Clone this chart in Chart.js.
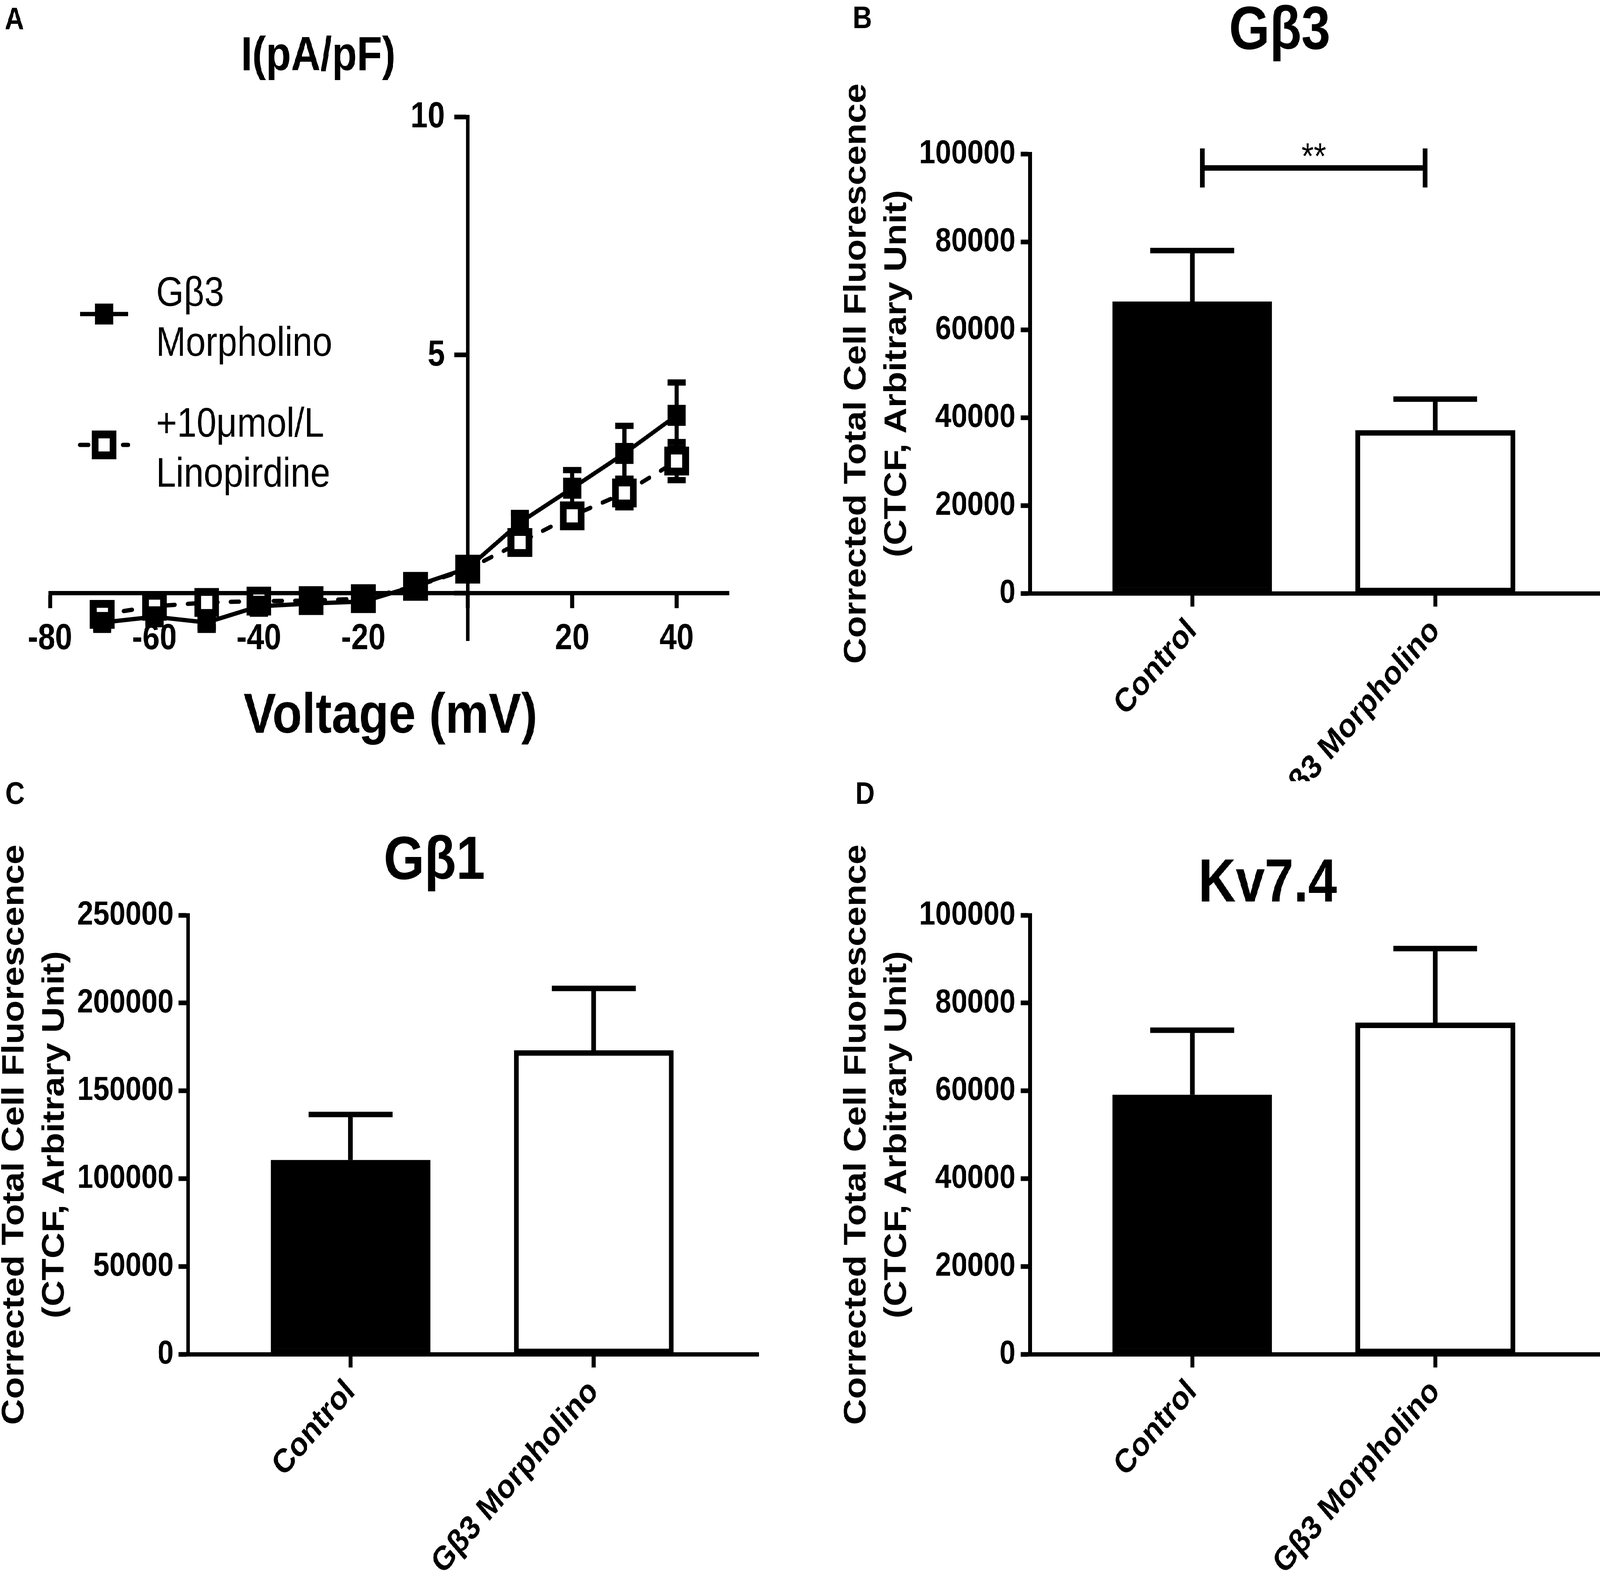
<!DOCTYPE html>
<html>
<head>
<meta charset="utf-8">
<title>Gβ3 morpholino: I-V and CTCF</title>
<script src="https://cdn.jsdelivr.net/npm/chart.js@4.4.1/dist/chart.umd.min.js"></script>
<style>
  html, body { margin: 0; padding: 0; background: #fff; overflow: hidden; }
  #frame { position: relative; overflow: hidden; background: #fff; }
  #page { position: absolute; left: 0; top: 0; width: 4766px; height: 4022px; background: #fff; transform-origin: 0 0; }
  canvas { position: absolute; }
</style>
</head>
<body>
<div id="frame">
<div id="page">
  <canvas id="panelA" width="2300" height="2000" style="left:0px;top:0px;width:2300px;height:2000px"></canvas>
  <canvas id="panelB" width="2316" height="2000" style="left:2450px;top:0px;width:2316px;height:2000px"></canvas>
  <canvas id="panelC" width="2360" height="2022" style="left:-58px;top:2000px;width:2360px;height:2022px"></canvas>
  <canvas id="panelD" width="2316" height="2022" style="left:2450px;top:2000px;width:2316px;height:2022px"></canvas>
</div>
</div>
<script>
// ---- panel A : current density vs voltage ----
var voltage = [-70, -60, -50, -40, -30, -20, -10, 0, 10, 20, 30, 40];
var morpholinoI = [-0.62, -0.5, -0.62, -0.28, -0.22, -0.18, 0.15, 0.52, 1.48, 2.2, 2.93, 3.73];
var morpholinoSem = [0.12, 0.1, 0.1, 0.08, 0.06, 0.06, 0.08, 0.1, 0.2, 0.38, 0.58, 0.69];
var linopirdineI = [-0.45, -0.28, -0.2, -0.17, -0.16, -0.12, 0.14, 0.5, 1.06, 1.62, 2.1, 2.77];
var linopirdineSem = [0.1, 0.08, 0.08, 0.06, 0.05, 0.05, 0.06, 0.08, 0.15, 0.2, 0.3, 0.4];
var voltageTicks = [-80, -60, -40, -20, 0, 20, 40];
var currentTicks = [0, 5, 10];
var legendLines = [["Gβ3", "Morpholino"], ["+10μmol/L", "Linopirdine"]];

// ---- panels B, C, D : corrected total cell fluorescence ----
var groups = ["Control", "Gβ3 Morpholino"];
var gb3Mean = [66400, 37100];
var gb3Sem = [11600, 7100];
var gb1Mean = [110600, 173000];
var gb1Sem = [25900, 35300];
var kvMean = [59100, 75500];
var kvSem = [14700, 16900];
var ticks100k = [0, 20000, 40000, 60000, 80000, 100000];
var ticks250k = [0, 50000, 100000, 150000, 200000, 250000];
var gb3SigPair = [0, 1];
var gb3SigLevel = 96800;
var gb3SigText = "**";
var ctcfTitle = ["Corrected Total Cell Fluorescence", "(CTCF, Arbitrary Unit)"];

var FAMILY = '"Liberation Sans", Arial, Helvetica, sans-serif';
Chart.defaults.font.family = FAMILY;
Chart.defaults.color = "#000";

// the figure is laid out at 4766 x 4022; the window may be capped smaller,
// so stretch the figure onto whatever viewport is there
var page = document.getElementById("page");
var frame = document.getElementById("frame");
var sx = window.innerWidth / 4766;
var sy = window.innerHeight / 4022;
page.style.transform = "scale(" + sx + "," + sy + ")";
frame.style.width = window.innerWidth + "px";
frame.style.height = window.innerHeight + "px";

function toPoints(xs, ys){
    return xs.map(function(x, i){ return {x: x, y: ys[i]}; });
}

// SEM bars, drawn through the chart's own scales
var errorBars = {
    id: "errorBars",
    beforeDatasetsDraw: function(chart, args, opts){
        if (opts.behind) drawErrors(chart, opts);
    },
    afterDatasetsDraw: function(chart, args, opts){
        if (!opts.behind) drawErrors(chart, opts);
    }
};
function drawErrors(chart, opts){
    var ctx = chart.ctx, xs = chart.scales.x, ys = chart.scales.y;
    ctx.save();
    ctx.strokeStyle = "#000";
    ctx.lineCap = "butt";
    chart.data.datasets.forEach(function(ds){
        if (!ds.sem) return;
        ds.data.forEach(function(pt, i){
            var x = xs.getPixelForValue(pt.x);
            var y = ys.getPixelForValue(pt.y);
            var hi = ys.getPixelForValue(pt.y + ds.sem[i]);
            var lo = opts.upOnly ? y : ys.getPixelForValue(pt.y - ds.sem[i]);
            ctx.lineWidth = opts.stemWidth;
            ctx.beginPath();
            ctx.moveTo(x, lo);
            ctx.lineTo(x, hi);
            ctx.stroke();
            ctx.lineWidth = opts.capWidth;
            ctx.beginPath();
            ctx.moveTo(x - opts.capHalf, hi);
            ctx.lineTo(x + opts.capHalf, hi);
            if (!opts.upOnly){
                ctx.moveTo(x - opts.capHalf, lo);
                ctx.lineTo(x + opts.capHalf, lo);
            }
            ctx.stroke();
        });
    });
    ctx.restore();
}

// free text: panel letters and titles
var panelText = {
    id: "panelText",
    afterDraw: function(chart, args, opts){
        var ctx = chart.ctx;
        ctx.save();
        ctx.fillStyle = "#000";
        ctx.textBaseline = "alphabetic";
        (opts.items || []).forEach(function(it){
            ctx.font = it.font;
            ctx.textAlign = it.align || "left";
            ctx.fillText(it.text, it.x, it.y);
        });
        ctx.restore();
    }
};

// y labels of panel A sit left of the crossing axis, with a gap
var crossLabels = {
    id: "crossLabels",
    afterDraw: function(chart, args, opts){
        if (!opts.values) return;
        var ctx = chart.ctx, xs = chart.scales.x, ys = chart.scales.y;
        var x = xs.getPixelForValue(0) - opts.gap;
        ctx.save();
        ctx.fillStyle = "#000";
        ctx.font = opts.font;
        ctx.textAlign = "right";
        ctx.textBaseline = "middle";
        opts.values.forEach(function(v){
            if (v === 0) return;
            ctx.fillText(String(v), x, ys.getPixelForValue(v) + opts.nudge);
        });
        ctx.restore();
    }
};

// two-line legend of panel A
var ivLegend = {
    id: "ivLegend",
    afterDraw: function(chart, args, opts){
        var ctx = chart.ctx;
        ctx.save();
        chart.data.datasets.forEach(function(ds, i){
            var y = opts.rowY[i];
            ctx.strokeStyle = "#000";
            ctx.lineWidth = ds.borderWidth;
            ctx.lineCap = ds.borderCapStyle || "butt";
            ctx.setLineDash(ds.borderDash || []);
            ctx.beginPath();
            ctx.moveTo(opts.x0, y);
            ctx.lineTo(opts.x1, y);
            ctx.stroke();
            ctx.setLineDash([]);
            ctx.fillStyle = ds.pointBackgroundColor;
            ctx.strokeStyle = ds.pointBorderColor || "#000";
            ctx.lineWidth = ds.pointBorderWidth;
            Chart.helpers.drawPoint(ctx, {
                pointStyle: ds.pointStyle, radius: ds.pointRadius,
                borderWidth: ds.pointBorderWidth, rotation: 0
            }, opts.cx, y);
            ctx.fillStyle = "#000";
            ctx.font = opts.font;
            ctx.textAlign = "left";
            ctx.textBaseline = "alphabetic";
            legendLines[i].forEach(function(line, k){
                ctx.fillText(line, opts.textX, y + opts.firstBase + k * opts.lineGap);
            });
        });
        ctx.restore();
    }
};

// significance bracket of panel B
var sigBracket = {
    id: "sigBracket",
    afterDatasetsDraw: function(chart, args, opts){
        if (!opts.pair) return;
        var ctx = chart.ctx, xs = chart.scales.x, ys = chart.scales.y;
        var x1 = xs.getPixelForValue(opts.pair[0]) + opts.inset;
        var x2 = xs.getPixelForValue(opts.pair[1]) - opts.inset;
        var y = ys.getPixelForValue(opts.level);
        ctx.save();
        ctx.strokeStyle = "#000";
        ctx.lineWidth = opts.width;
        ctx.beginPath();
        ctx.moveTo(x1, y); ctx.lineTo(x2, y);
        ctx.moveTo(x1, y - opts.tick); ctx.lineTo(x1, y + opts.tick);
        ctx.moveTo(x2, y - opts.tick); ctx.lineTo(x2, y + opts.tick);
        ctx.stroke();
        ctx.fillStyle = "#000";
        ctx.font = opts.font;
        ctx.textAlign = "center";
        ctx.textBaseline = "alphabetic";
        ctx.fillText(opts.text, (x1 + x2) / 2, y + opts.textDrop);
        ctx.restore();
    }
};

var axisLine = {color: "#000", width: 11};
function tickGrid(len){
    return {drawOnChartArea: false, drawTicks: true, tickLength: len, tickWidth: 12, tickColor: "#000", offset: false};
}

new Chart(document.getElementById("panelA"), {
    type: "line",
    data: {
        datasets: [{
            label: legendLines[0].join(" "),
            data: toPoints(voltage, morpholinoI),
            sem: morpholinoSem,
            borderColor: "#000",
            borderWidth: 11,
            tension: 0,
            pointStyle: "rect",
            pointRadius: 38,
            pointHoverRadius: 38,
            pointBackgroundColor: "#000",
            pointBorderColor: "#000",
            pointBorderWidth: 0
        }, {
            label: legendLines[1].join(" "),
            data: toPoints(voltage, linopirdineI),
            sem: linopirdineSem,
            borderColor: "#000",
            borderWidth: 11,
            borderDash: [26, 38],
            borderCapStyle: "round",
            tension: 0,
            pointStyle: "rect",
            pointRadius: 38,
            pointHoverRadius: 38,
            pointBackgroundColor: "#fff",
            pointBorderColor: "#000",
            pointBorderWidth: 20
        }]
    },
    options: {
        responsive: false,
        animation: false,
        devicePixelRatio: 1,
        layout: {padding: {left: 149, top: 299, right: 129, bottom: 360}},
        plugins: {
            legend: {display: false},
            tooltip: {enabled: false},
            errorBars: {behind: true, capHalf: 27, capWidth: 16, stemWidth: 12},
            crossLabels: {values: currentTicks, gap: 68, nudge: 2, font: "bold 92px " + FAMILY},
            ivLegend: {rowY: [804, 1139], x0: 238, x1: 382, cx: 310, textX: 465,
                       firstBase: -21, lineGap: 128, font: "106px " + FAMILY},
            panelText: {items: [
                {text: "A", x: 14, y: 75, font: "bold 80px " + FAMILY},
                {text: "I(pA/pF)", x: 948, y: 180, align: "center", font: "bold 122px " + FAMILY},
                {text: "Voltage (mV)", x: 1163, y: 1876, align: "center", font: "bold 145px " + FAMILY}
            ]}
        },
        scales: {
            x: {
                type: "linear",
                position: {y: 0},
                min: -80,
                max: 50,
                afterBuildTicks: function(s){ s.ticks = voltageTicks.map(function(v){ return {value: v}; }); },
                ticks: {
                    autoSkip: false, maxRotation: 0, padding: 30,
                    font: {size: 92, weight: "bold"},
                    callback: function(v){ return v === 0 ? "" : String(v); }
                },
                grid: tickGrid(33),
                border: axisLine
            },
            y: {
                type: "linear",
                position: {x: 0},
                min: -1,
                max: 10,
                afterBuildTicks: function(s){ s.ticks = currentTicks.map(function(v){ return {value: v}; }); },
                ticks: {display: false},
                grid: tickGrid(35),
                border: axisLine
            }
        }
    },
    plugins: [errorBars, crossLabels, ivLegend, panelText]
});

function barPanel(id, mean, sem, yMax, yTicks, frameBox, texts, sig){
    var xIdx = groups.map(function(g, i){ return i; });
    return new Chart(document.getElementById(id), {
        type: "bar",
        data: {
            datasets: [{
                data: toPoints(xIdx, mean),
                sem: sem,
                backgroundColor: ["#000", "#fff"],
                borderColor: "#000",
                borderWidth: 14,
                borderSkipped: false,
                barThickness: 475
            }]
        },
        options: {
            responsive: false,
            animation: false,
            devicePixelRatio: 1,
            layout: {padding: {left: 0, top: frameBox.top, right: frameBox.right, bottom: 0}},
            plugins: {
                legend: {display: false},
                tooltip: {enabled: false},
                errorBars: {behind: false, upOnly: true, capHalf: 125, capWidth: 14, stemWidth: 14},
                sigBracket: sig || {},
                panelText: {items: texts}
            },
            scales: {
                x: {
                    type: "linear",
                    offset: false,
                    min: -0.668,
                    max: 1.678,
                    afterBuildTicks: function(s){ s.ticks = xIdx.map(function(v){ return {value: v}; }); },
                    afterFit: function(s){ s.height = frameBox.xHeight; },
                    ticks: {
                        autoSkip: false, minRotation: 45, maxRotation: 45, padding: 12,
                        font: {size: 86, weight: "bold"},
                        callback: function(v){ return groups[v]; }
                    },
                    grid: tickGrid(34),
                    border: axisLine
                },
                y: {
                    min: 0,
                    max: yMax,
                    afterBuildTicks: function(s){ s.ticks = yTicks.map(function(v){ return {value: v}; }); },
                    afterFit: function(s){ s.width = frameBox.yWidth; },
                    ticks: {
                        padding: 15,
                        font: {size: 86, weight: "bold"},
                        callback: function(v){ return String(v); }
                    },
                    grid: tickGrid(28),
                    border: axisLine,
                    title: {
                        display: true,
                        text: ctcfTitle,
                        font: {size: 92, weight: "bold", lineHeight: 1.3},
                        padding: {top: 43, bottom: 0}
                    }
                }
            }
        },
        plugins: [errorBars, sigBracket, panelText]
    });
}

barPanel("panelB", gb3Mean, gb3Sem, 100000, ticks100k,
    {top: 394, right: 0, xHeight: 481, yWidth: 618},
    [
        {text: "B", x: 90, y: 72, font: "bold 80px " + FAMILY},
        {text: "Gβ3", x: 1362, y: 125, align: "center", font: "bold 155px " + FAMILY}
    ],
    {pair: gb3SigPair, level: gb3SigLevel, text: gb3SigText, inset: 30, tick: 50,
     width: 14, textDrop: 2, font: "95px " + FAMILY});

// panel C canvas starts 58px left of the page so its axis block matches B and D
barPanel("panelC", gb1Mean, gb1Sem, 250000, ticks250k,
    {top: 343, right: 42, xHeight: 555, yWidth: 618},
    [
        {text: "C", x: 74, y: 58, font: "bold 80px " + FAMILY},
        {text: "Gβ1", x: 1352, y: 250, align: "center", font: "bold 155px " + FAMILY}
    ]);

barPanel("panelD", kvMean, kvSem, 100000, ticks100k,
    {top: 343, right: 0, xHeight: 555, yWidth: 618},
    [
        {text: "D", x: 98, y: 58, font: "bold 80px " + FAMILY},
        {text: "Kv7.4", x: 1326, y: 308, align: "center", font: "bold 155px " + FAMILY}
    ]);
</script>
</body>
</html>
